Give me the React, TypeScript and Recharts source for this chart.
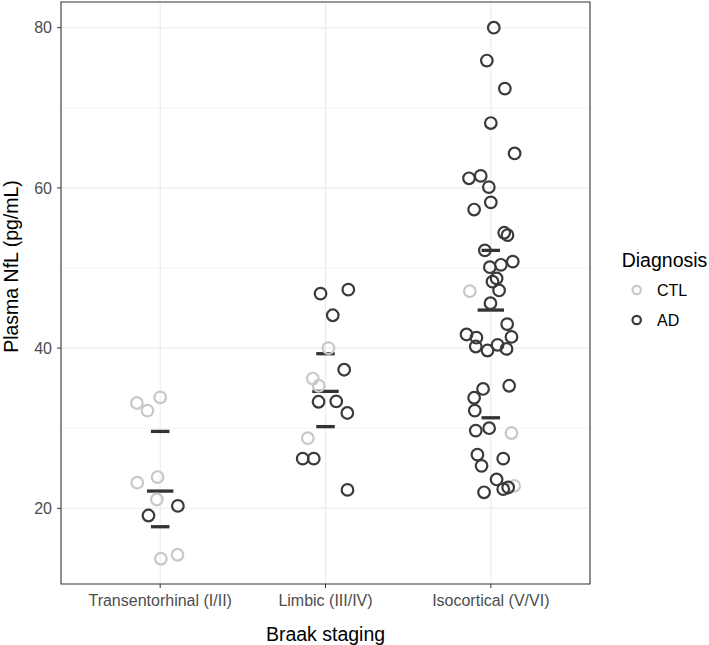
import { CartesianGrid, Label, ReferenceArea, ReferenceLine, Scatter, ScatterChart, XAxis, YAxis } from "recharts";

const categories = ["Transentorhinal (I/II)", "Limbic (III/IV)", "Isocortical (V/VI)"];

// [horizontal jitter in category units, plasma NfL pg/mL]
const transCTL: [number, number][] = [
  [-0.141, 33.15], [-0.077, 32.2], [0.0, 33.85], [-0.139, 23.2],
  [-0.016, 23.9], [-0.02, 21.1], [0.004, 13.7], [0.105, 14.2],
];
const transAD: [number, number][] = [[-0.071, 19.1], [0.107, 20.3]];

const limbicCTL: [number, number][] = [[0.018, 40.0], [-0.077, 36.2], [-0.041, 35.3], [-0.107, 28.75]];
const limbicAD: [number, number][] = [
  [-0.03, 46.8], [0.138, 47.3], [0.044, 44.1], [0.113, 37.3], [-0.042, 33.3],
  [0.065, 33.35], [0.132, 31.9], [-0.138, 26.2], [-0.071, 26.2], [0.133, 22.3],
];

const isoCTL: [number, number][] = [[-0.127, 47.1], [0.125, 29.4], [0.141, 22.8]];
const isoAD: [number, number][] = [
  [0.018, 80.0], [-0.024, 75.9], [0.085, 72.4], [0.0, 68.1], [0.144, 64.3],
  [-0.132, 61.2], [-0.061, 61.5], [-0.012, 60.1], [0.0, 58.2], [-0.101, 57.3],
  [0.081, 54.4], [0.101, 54.1], [-0.036, 52.2], [-0.006, 50.1], [0.061, 50.4],
  [0.133, 50.8], [0.035, 48.7], [0.01, 48.3], [0.05, 47.2], [-0.002, 45.6],
  [0.099, 43.0], [-0.147, 41.7], [-0.087, 41.3], [0.125, 41.4], [-0.091, 40.2],
  [-0.02, 39.7], [0.041, 40.4], [0.095, 39.9], [0.111, 35.3], [-0.047, 34.9],
  [-0.101, 33.8], [-0.097, 32.2], [-0.091, 29.7], [-0.01, 30.0], [-0.081, 26.7],
  [-0.056, 25.3], [0.075, 26.2], [0.035, 23.6], [-0.041, 22.0], [0.075, 22.4],
  [0.105, 22.6],
];

// summary bars per stage
const upperBar = [29.6, 39.3, 52.2];
const middleBar = [22.15, 34.6, 44.75];
const lowerBar = [17.7, 30.2, 31.3];

const yTicks = [20, 40, 60, 80];
const yMinor = [30, 50, 70];

const CTL_COLOR = "#c8c8c8";
const AD_COLOR = "#3a3a3a";
const FONT = "'Liberation Sans', Arial, Helvetica, sans-serif";

const legendItems = [
  { name: "CTL", color: CTL_COLOR },
  { name: "AD", color: AD_COLOR },
];

const Y_MIN = 10.55;
const Y_MAX = 83.21;

const toPoints = (cat: number, pts: [number, number][]) =>
  pts.map(([j, v]) => ({ x: cat + 1 + j, y: v }));

const ctlPoints = [...toPoints(0, transCTL), ...toPoints(1, limbicCTL), ...toPoints(2, isoCTL)];
const adPoints = [...toPoints(0, transAD), ...toPoints(1, limbicAD), ...toPoints(2, isoAD)];

const ring = (color: string) => (props: any) => (
  <circle cx={props.cx} cy={props.cy} r={5.8} fill="none" stroke={color} strokeWidth={2.2} />
);

export default function App() {
  return (
    <div style={{ position: "absolute", left: 0, top: 0, width: 709, height: 645, background: "#fff", fontFamily: FONT }}>
      <ScatterChart width={709} height={645} margin={{ top: 2, right: 119, bottom: 0, left: 0 }}>
        <CartesianGrid horizontalValues={yMinor} vertical={false} stroke="#ebebeb" strokeWidth={0.6} />
        <CartesianGrid horizontalValues={yTicks} verticalValues={[1, 2, 3]} stroke="#ebebeb" strokeWidth={1.1} />
        <XAxis
          type="number"
          dataKey="x"
          domain={[0.4, 3.6]}
          ticks={[1, 2, 3]}
          tickFormatter={(v: number) => categories[v - 1]}
          height={61}
          axisLine={false}
          tickSize={4}
          tickMargin={7}
          tickLine={{ stroke: "#333" }}
          tick={{ fill: "#4d4d4d", fontSize: 16, fontFamily: FONT }}
          allowDataOverflow
        >
          <Label
            content={({ viewBox }: any) => (
              <text x={viewBox.x + viewBox.width / 2} y={641} textAnchor="middle" fontSize={19.5} fill="#000" fontFamily={FONT}>
                Braak staging
              </text>
            )}
          />
        </XAxis>
        <YAxis
          type="number"
          dataKey="y"
          domain={[Y_MIN, Y_MAX]}
          ticks={yTicks}
          width={61}
          axisLine={false}
          tickSize={4}
          tickMargin={5}
          tickLine={{ stroke: "#333" }}
          tick={{ fill: "#4d4d4d", fontSize: 16, fontFamily: FONT }}
          allowDataOverflow
        >
          <Label
            content={({ viewBox }: any) => {
              const cy = viewBox.y + viewBox.height / 2 - 26.5;
              return (
                <text x={18} y={cy} transform={`rotate(-90 18 ${cy})`} textAnchor="middle" fontSize={19.5} fill="#000" fontFamily={FONT}>
                  Plasma NfL (pg/mL)
                </text>
              );
            }}
          />
        </YAxis>
        <Scatter name="CTL" data={ctlPoints} shape={ring(CTL_COLOR)} isAnimationActive={false} />
        <Scatter name="AD" data={adPoints} shape={ring(AD_COLOR)} isAnimationActive={false} />
        {categories.map((c, i) => (
          <ReferenceLine key={"u" + c} segment={[{ x: i + 1 - 0.056, y: upperBar[i] }, { x: i + 1 + 0.056, y: upperBar[i] }]} stroke="#333" strokeWidth={3.3} ifOverflow="visible" />
        ))}
        {categories.map((c, i) => (
          <ReferenceLine key={"m" + c} segment={[{ x: i + 1 - 0.08, y: middleBar[i] }, { x: i + 1 + 0.08, y: middleBar[i] }]} stroke="#333" strokeWidth={3.3} ifOverflow="visible" />
        ))}
        {categories.map((c, i) => (
          <ReferenceLine key={"l" + c} segment={[{ x: i + 1 - 0.056, y: lowerBar[i] }, { x: i + 1 + 0.056, y: lowerBar[i] }]} stroke="#333" strokeWidth={3.3} ifOverflow="visible" />
        ))}
        <ReferenceArea x1={0.4} x2={3.6} y1={Y_MIN} y2={Y_MAX} fill="none" stroke="#333" strokeWidth={1.1} ifOverflow="visible" />
      </ScatterChart>
      <svg style={{ position: "absolute", left: 600, top: 240 }} width={109} height={100}>
        <text x={21.7} y={27} fontSize={19.5} fill="#000" fontFamily={FONT}>Diagnosis</text>
        {legendItems.map((it, i) => (
          <g key={it.name}>
            <circle cx={36.7} cy={50 + i * 30} r={4.2} fill="none" stroke={it.color} strokeWidth={2.2} />
            <text x={57} y={50 + i * 30} dy="0.36em" fontSize={16} fill="#000" fontFamily={FONT}>{it.name}</text>
          </g>
        ))}
      </svg>
    </div>
  );
}
